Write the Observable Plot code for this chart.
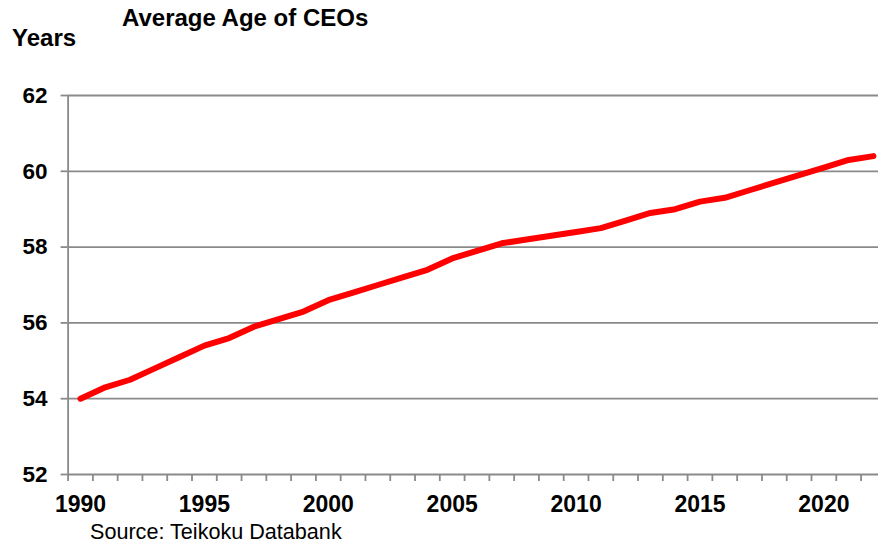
<!DOCTYPE html>
<html>
<head>
<meta charset="utf-8">
<script src="https://cdn.jsdelivr.net/npm/d3@7"></script>
<script src="https://cdn.jsdelivr.net/npm/@observablehq/plot@0.6"></script>
<style>
  html, body { margin: 0; padding: 0; background: #fff; overflow: hidden; }
  #wrap { position: relative; width: 878px; height: 544px; font-family: "Liberation Sans", Arial, sans-serif; color: #000; }
  .t { position: absolute; white-space: nowrap; line-height: 1; }
  #title { left: 122px; top: 6.3px; font-size: 24px; font-weight: bold; }
  #ylab { left: 12px; top: 26.3px; font-size: 24px; font-weight: bold; }
  #chart { position: absolute; left: 0; top: 50px; }
  #source { left: 90px; top: 524.2px; font-size: 21.6px; line-height: 0.7; }
</style>
</head>
<body>
<div id="wrap">
  <div class="t" id="title">Average Age of CEOs</div>
  <div class="t" id="ylab">Years</div>
  <div id="chart"></div>
  <div class="t" id="source">Source: Teikoku Databank</div>
</div>
<script>
const years = [1990,1991,1992,1993,1994,1995,1996,1997,1998,1999,2000,2001,2002,2003,2004,2005,2006,2007,2008,2009,2010,2011,2012,2013,2014,2015,2016,2017,2018,2019,2020,2021,2022];
const avgAge = [54.0,54.3,54.5,54.8,55.1,55.4,55.6,55.9,56.1,56.3,56.6,56.8,57.0,57.2,57.4,57.7,57.9,58.1,58.2,58.3,58.4,58.5,58.7,58.9,59.0,59.2,59.3,59.5,59.7,59.9,60.1,60.3,60.4];
const yTicks = [52,54,56,58,60,62];
const xLabels = [1990,1995,2000,2005,2010,2015,2020];

const data = years.map((y, i) => ({year: y, age: avgAge[i]}));
const bounds = years.map(y => y - 0.5).concat([years[years.length - 1] + 0.5]);
const gray = "#8a8a8a";
const W = 878, H = 470;
const left = 67.6, step = 24.78;

const chart = Plot.plot({
  width: W,
  height: H,
  marginTop: 45,
  marginBottom: 46,
  marginLeft: left,
  marginRight: 0,
  style: {fontFamily: "'Liberation Sans', Arial, sans-serif", color: "#000", background: "#fff", overflow: "hidden"},
  x: {domain: [bounds[0], bounds[bounds.length - 1]], range: [left, left + step * (bounds.length - 1)]},
  y: {domain: [52, 62]},
  marks: [
    Plot.gridY(yTicks.filter(d => d > 52), {stroke: gray, strokeOpacity: 1, strokeWidth: 1.8}),
    Plot.ruleY([52], {stroke: gray, strokeWidth: 1.8}),
    Plot.ruleX([bounds[0]], {stroke: gray, strokeWidth: 1.8}),
    Plot.axisY(yTicks, {tickSize: 7, tickPadding: 13.5, stroke: gray, strokeWidth: 1.8, fill: "#000", fontSize: 22.5, fontWeight: "bold", tickFormat: d => String(d), label: null}),
    Plot.axisX(bounds, {tickSize: 7, stroke: gray, strokeWidth: 1.8, tickFormat: () => "", label: null}),
    Plot.axisX(xLabels, {tickSize: 0, tickPadding: 21, fill: "#000", fontSize: 23, fontWeight: "bold", tickFormat: d => String(d), label: null}),
    Plot.line(data, {x: "year", y: "age", stroke: "#ff0000", strokeWidth: 6, strokeLinecap: "round", strokeLinejoin: "round"})
  ]
});
document.getElementById("chart").appendChild(chart);
</script>
</body>
</html>
